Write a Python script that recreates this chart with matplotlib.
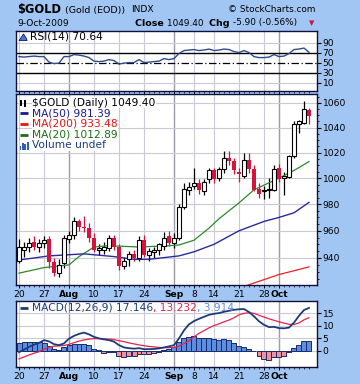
import numpy as np
import matplotlib.pyplot as plt
from matplotlib.ticker import NullFormatter, FixedLocator
from matplotlib.patches import Polygon, Rectangle

# trading days 20-Jul-2009 .. 9-Oct-2009
opens = [938, 946, 948, 952, 948, 951, 954, 937, 929, 936,
         954, 957, 967, 963, 962, 955, 946, 946, 947, 955,
         948, 934, 939, 943, 940, 953, 942, 944, 946, 949,
         956, 951, 955, 978, 991, 994, 996, 990, 999, 1006,
         1000, 1007, 1016, 1013, 1005, 1002, 1014, 1007, 992, 990,
         991, 991, 1008, 1000, 1001, 1017, 1043, 1044, 1054]
highs = [954, 952, 955, 956, 954, 956, 956, 940, 939, 957,
         960, 970, 969, 971, 966, 958, 950, 952, 957, 957,
         950, 941, 945, 946, 956, 957, 947, 948, 951, 959,
         960, 958, 980, 996, 997, 1008, 999, 999, 1008, 1008,
         1009, 1021, 1021, 1016, 1008, 1020, 1020, 1010, 996, 994,
         1000, 1010, 1011, 1005, 1018, 1045, 1046, 1062, 1056]
lows = [936, 941, 944, 946, 944, 947, 933, 927, 926, 933,
        951, 954, 960, 959, 952, 944, 942, 943, 945, 946,
        931, 932, 934, 938, 938, 941, 938, 940, 942, 946,
        949, 947, 953, 976, 987, 992, 988, 987, 996, 996,
        998, 1004, 1010, 1003, 997, 1000, 1004, 990, 985, 984,
        985, 990, 997, 987, 1000, 1016, 1036, 1043, 1043]
closes = [948, 948, 951, 948, 951, 953, 937, 929, 935, 955,
          957, 967, 963, 962, 955, 946, 947, 948, 955, 948,
          934, 938, 943, 940, 953, 942, 945, 946, 950, 955,
          951, 955, 978, 992, 993, 996, 991, 997, 1006, 999,
          1007, 1016, 1013, 1006, 1003, 1014, 1007, 991, 988, 991,
          992, 1007, 999, 1002, 1017, 1043, 1045, 1055.3, 1049.4]

ma20_day = [0, 5, 10, 12, 15, 18, 24, 30, 32, 35, 38, 40, 44, 47, 52, 55, 58]
ma20_val = [929, 933, 935, 941, 948, 949, 948, 949, 949.5, 953, 962, 969,
            981, 991, 1000, 1006, 1012.89]
ma50_day = [0, 6, 13, 19, 23, 26, 32, 35, 39, 44, 49, 52, 55, 58]
ma50_val = [938.5, 941.5, 943, 941, 939, 939, 941.5, 944.5, 950, 960, 967,
            970, 973.5, 981.39]
ma200_day = [38, 45, 52, 58]
ma200_val = [914, 919.5, 928, 933.48]

rsi = [62, 61, 62, 63, 62, 62, 51, 48, 49, 62,
       62, 66, 65, 63, 60, 53, 52, 53, 56, 54,
       47, 49, 50, 50, 56, 50, 51, 52, 53, 58,
       56, 58, 68, 74, 75, 76, 74, 75, 77, 74,
       75, 77, 76, 72, 70, 74, 70, 62, 60, 60,
       61, 66, 62, 63, 68, 76, 77, 79, 70.64]

macd = [-0.5, 0.5, 1.6, 2.5, 3.2, 4.3, 3.8, 2.7, 2.3, 3.0,
        4.9, 6.0, 6.8, 7.3, 6.6, 5.6, 5.0, 4.6, 4.3, 3.7,
        2.3, 1.4, 1.1, 0.9, 1.1, 0.7, 0.7, 0.8, 1.0, 1.4,
        1.8, 2.3, 5.0, 8.2, 10.6, 11.9, 12.8, 13.6, 14.4, 14.8,
        15.1, 15.6, 16.0, 16.4, 16.6, 16.7, 15.5, 13.8, 11.8, 10.4,
        9.5, 9.6, 9.1, 9.0, 9.3, 11.3, 14.0, 16.3, 17.146]
signal = [-3.2, -2.4, -1.6, -0.9, -0.3, 0.7, 1.5, 1.9, 2.0, 2.2,
          2.6, 3.3, 3.9, 4.4, 4.7, 4.9, 4.9, 4.8, 4.7, 4.5,
          4.1, 3.7, 3.2, 2.8, 2.4, 2.1, 1.8, 1.6, 1.4, 1.3,
          1.3, 1.4, 1.9, 2.9, 4.1, 5.6, 7.0, 8.1, 9.2, 10.1,
          10.8, 11.6, 12.3, 13.2, 14.4, 15.0, 15.2, 15.0, 14.2, 13.5,
          12.8, 12.2, 11.6, 11.1, 10.6, 10.5, 11.2, 12.4, 13.232]
hist = [3.0, 3.5, 3.7, 3.7, 3.6, 3.3, 2.0, 0.7, 0.3, 1.6,
        2.5, 2.9, 2.9, 2.9, 2.5, 0.9, 0.3, -0.7, -0.4, -0.4,
        -2.0, -2.4, -2.1, -2.1, -1.1, -1.1, -1.1, -0.8, -0.4, 0.3,
        0.7, 1.6, 3.6, 5.3, 5.6, 5.9, 5.2, 5.3, 5.3, 4.7,
        4.5, 4.7, 4.3, 3.2, 1.9, 1.6, 0.9, -0.1, -2.0, -3.1,
        -3.5, -2.4, -2.4, -2.1, -0.3, 1.2, 2.5, 4.0, 3.914]

tick_day = [0, 5, 10, 15, 20, 25, 31, 35, 39, 44, 49, 52]
tick_lab = ['20', '27', 'Aug', '10', '17', '24', 'Sep', '8', '14', '21', '28', 'Oct']
month_day = [10, 31, 52]

BG = '#a2c6f4'
NAVY = '#16166e'
GRID = '#cacad6'
MGRID = '#9c9ca8'
RED = '#d4143c'
LFS = 7.7

plt.rcParams['font.family'] = 'DejaVu Sans'
fig = plt.figure(figsize=(3.6, 3.84), dpi=100, facecolor=BG)
W, H = 360.0, 384.0


def box(top, bottom):
    return [16 / W, 1 - bottom / H, 301 / W, (bottom - top) / H]


ax_r = fig.add_axes(box(31, 91))
ax_p = fig.add_axes(box(94, 285))
ax_m = fig.add_axes(box(301, 367))

n = len(closes)
x = np.arange(n)
for ax in (ax_r, ax_p, ax_m):
    ax.set_facecolor('white')
    ax.set_xlim(-0.6, 59.6)
    for s in ax.spines.values():
        s.set_color('#10103a')
        s.set_linewidth(1)
    for d in tick_day:
        if d in month_day:
            ax.axvline(d, color=MGRID, lw=1.0, zorder=0)
        else:
            ax.axvline(d, color=GRID, lw=0.8, zorder=0)
    ax.yaxis.tick_right()
    ax.tick_params(axis='y', which='major', length=3, width=0.8, pad=1,
                   labelsize=6.6, colors='black')
    ax.tick_params(axis='y', which='minor', length=1.5, width=0.6)
    ax.set_xticks(tick_day)
    ax.xaxis.set_minor_locator(FixedLocator(x))
    ax.tick_params(axis='x', which='major', length=2.5, width=0.7, pad=1,
                   labelsize=6.6)
    ax.tick_params(axis='x', which='minor', length=1.5, width=0.5)
    ax.set_xticklabels(tick_lab)
    for lab in ax.get_xticklabels():
        if lab.get_text() in ('Aug', 'Sep', 'Oct'):
            lab.set_fontweight('bold')

# ---- RSI panel
ax_r.set_ylim(-6.6, 113)
ax_r.set_yticks([10, 30, 50, 70, 90])
ax_r.set_xticklabels([])
for lv in (10, 90):
    ax_r.axhline(lv, color=GRID, lw=0.8, zorder=0)
ax_r.axhline(70, color='black', lw=1.0, zorder=1)
ax_r.axhline(30, color='black', lw=1.0, zorder=1)
ax_r.axhline(50, color='black', lw=0.9, ls=(0, (6, 2, 1, 2)), zorder=1)
ax_r.plot(x, rsi, color='#2c4c8c', lw=1.0, zorder=3)
ax_r.add_patch(Polygon([[0.01, 0.84], [0.025, 0.95], [0.034, 0.88], [0.037, 0.84]],
                       closed=True, transform=ax_r.transAxes, facecolor='#4a78c8',
                       edgecolor=NAVY, lw=0.6, zorder=4))
ax_r.text(0.047, 0.905, 'RSI(14) 70.64', transform=ax_r.transAxes, fontsize=LFS,
          va='center', ha='left', zorder=5)

# ---- price panel
ax_p.set_yscale('log')
ax_p.set_ylim(920.5, 1067.4)
pt = [940, 960, 980, 1000, 1020, 1040, 1060]
ax_p.yaxis.set_major_locator(FixedLocator(pt))
ax_p.yaxis.set_minor_locator(FixedLocator(np.arange(925, 1066, 5)))
ax_p.set_yticklabels([str(v) for v in pt])
ax_p.yaxis.set_minor_formatter(NullFormatter())
for v in pt:
    ax_p.axhline(v, color=GRID, lw=0.8, zorder=0)

o = np.array(opens, float)
c = np.array(closes, float)
hi = np.array(highs, float)
lo = np.array(lows, float)
up = c >= o
ax_p.vlines(x[up], lo[up], hi[up], color='black', lw=0.9, zorder=2)
ax_p.vlines(x[~up], lo[~up], hi[~up], color=RED, lw=0.9, zorder=2)
hu = np.maximum(c[up] - o[up], 0.8)
ax_p.bar(x[up], hu, bottom=o[up], width=0.75, facecolor='white',
         edgecolor='black', lw=0.8, zorder=3)
hd = np.maximum(o[~up] - c[~up], 0.8)
ax_p.bar(x[~up], hd, bottom=c[~up], width=0.75, color=RED, lw=0, zorder=3)

ax_p.plot(ma20_day, ma20_val, color='#2a8a2a', lw=0.9, zorder=2.5)
ax_p.plot(ma50_day, ma50_val, color='#2a2a9a', lw=1.0, zorder=2.5)
ax_p.plot(ma200_day, ma200_val, color='#f02020', lw=0.9, zorder=2.5)

leg = [('$GOLD (Daily) 1049.40', 'black'),
       ('MA(50) 981.39', '#1a1a8c'),
       ('MA(200) 933.48', '#ee1010'),
       ('MA(20) 1012.89', '#1a6e1a'),
       ('Volume undef', '#1a3c7c')]
for i, (t, col) in enumerate(leg):
    yy = 0.955 - i * 0.056
    ax_p.text(0.053, yy, t, transform=ax_p.transAxes, fontsize=LFS, color=col,
              va='center', ha='left', zorder=6,
              bbox=dict(facecolor='white', edgecolor='none', pad=0.3))
    if i in (1, 2, 3):
        ax_p.plot([0.012, 0.04], [yy, yy], transform=ax_p.transAxes, color=col,
                  lw=2, solid_capstyle='butt', zorder=6)
yy0 = 0.955
ax_p.add_patch(Rectangle((0.013, yy0 - 0.02), 0.008, 0.035, transform=ax_p.transAxes,
                         facecolor='black', zorder=6))
ax_p.add_patch(Rectangle((0.026, yy0 - 0.025), 0.008, 0.04, transform=ax_p.transAxes,
                         facecolor='black', zorder=6))
yy4 = 0.955 - 4 * 0.056
for k, hh in enumerate([0.02, 0.035, 0.028, 0.04]):
    ax_p.add_patch(Rectangle((0.012 + k * 0.008, yy4 - 0.022), 0.006, hh,
                             transform=ax_p.transAxes, facecolor='#3060b0', zorder=6))

# ---- MACD panel
ax_m.set_ylim(-6.4, 19.9)
ax_m.set_yticks([0, 5, 10, 15])
for v in (0, 5, 10, 15):
    ax_m.axhline(v, color=GRID, lw=0.8, zorder=0)
hv = np.array(hist)
ax_m.bar(x[hv >= 0], hv[hv >= 0], width=1.0, facecolor='#5b8de0',
         edgecolor='#1a2a6a', lw=0.7, zorder=2)
ax_m.bar(x[hv < 0], hv[hv < 0], width=1.0, facecolor='#f2909c',
         edgecolor='#1a2a6a', lw=0.7, zorder=2)
ax_m.plot(x, signal, color='#e8204a', lw=0.9, zorder=3)
ax_m.plot(x, macd, color='#1c3c7c', lw=1.3, zorder=4)
ax_m.plot([0.012, 0.04], [0.895, 0.895], transform=ax_m.transAxes, color='#1c3c7c',
          lw=2, solid_capstyle='butt', zorder=6)
t1 = ax_m.text(0.053, 0.895, 'MACD(12,26,9) 17.146', transform=ax_m.transAxes,
               fontsize=LFS, color='#1c3c7c', va='center', ha='left', zorder=6)
t2 = ax_m.annotate(', 13.232', xy=(1, 0), xycoords=t1, va='bottom', ha='left',
                   fontsize=LFS, color='#e8204a', zorder=6)
ax_m.annotate(', 3.914', xy=(1, 0), xycoords=t2, va='bottom', ha='left',
              fontsize=LFS, color='#5a8ee0', zorder=6)

# ---- header
fig.text(17 / W, 1 - 10 / H, '$GOLD', fontsize=8.3, fontweight='bold', va='center')
fig.text(65 / W, 1 - 10 / H, '(Gold (EOD))', fontsize=6.8, va='center')
fig.text(131 / W, 1 - 10 / H, 'INDX', fontsize=6.6, va='center')
fig.text(315 / W, 1 - 10 / H, '\u00a9 StockCharts.com', fontsize=6.4, va='center', ha='right')
fig.text(17 / W, 1 - 23 / H, '9-Oct-2009', fontsize=6.6, va='center')
h1 = fig.text(135 / W, 1 - 23 / H, 'Close ', fontsize=6.8, fontweight='bold', va='center')
h2 = ax_m.annotate('1049.40  ', xy=(1, 0), xycoords=h1, va='bottom', ha='left',
                   fontsize=6.4, annotation_clip=False)
h3 = ax_m.annotate('Chg ', xy=(1, 0), xycoords=h2, va='bottom', ha='left',
                   fontsize=6.8, fontweight='bold', annotation_clip=False)
ax_m.annotate('-5.90 (-0.56%)', xy=(1, 0), xycoords=h3, va='bottom', ha='left',
              fontsize=6.4, annotation_clip=False)
fig.text(312 / W, 1 - 23 / H, '\u25bc', fontsize=5, color='#cc1040', va='center', ha='center')

fig.savefig('out.png', dpi=100, facecolor=BG)
